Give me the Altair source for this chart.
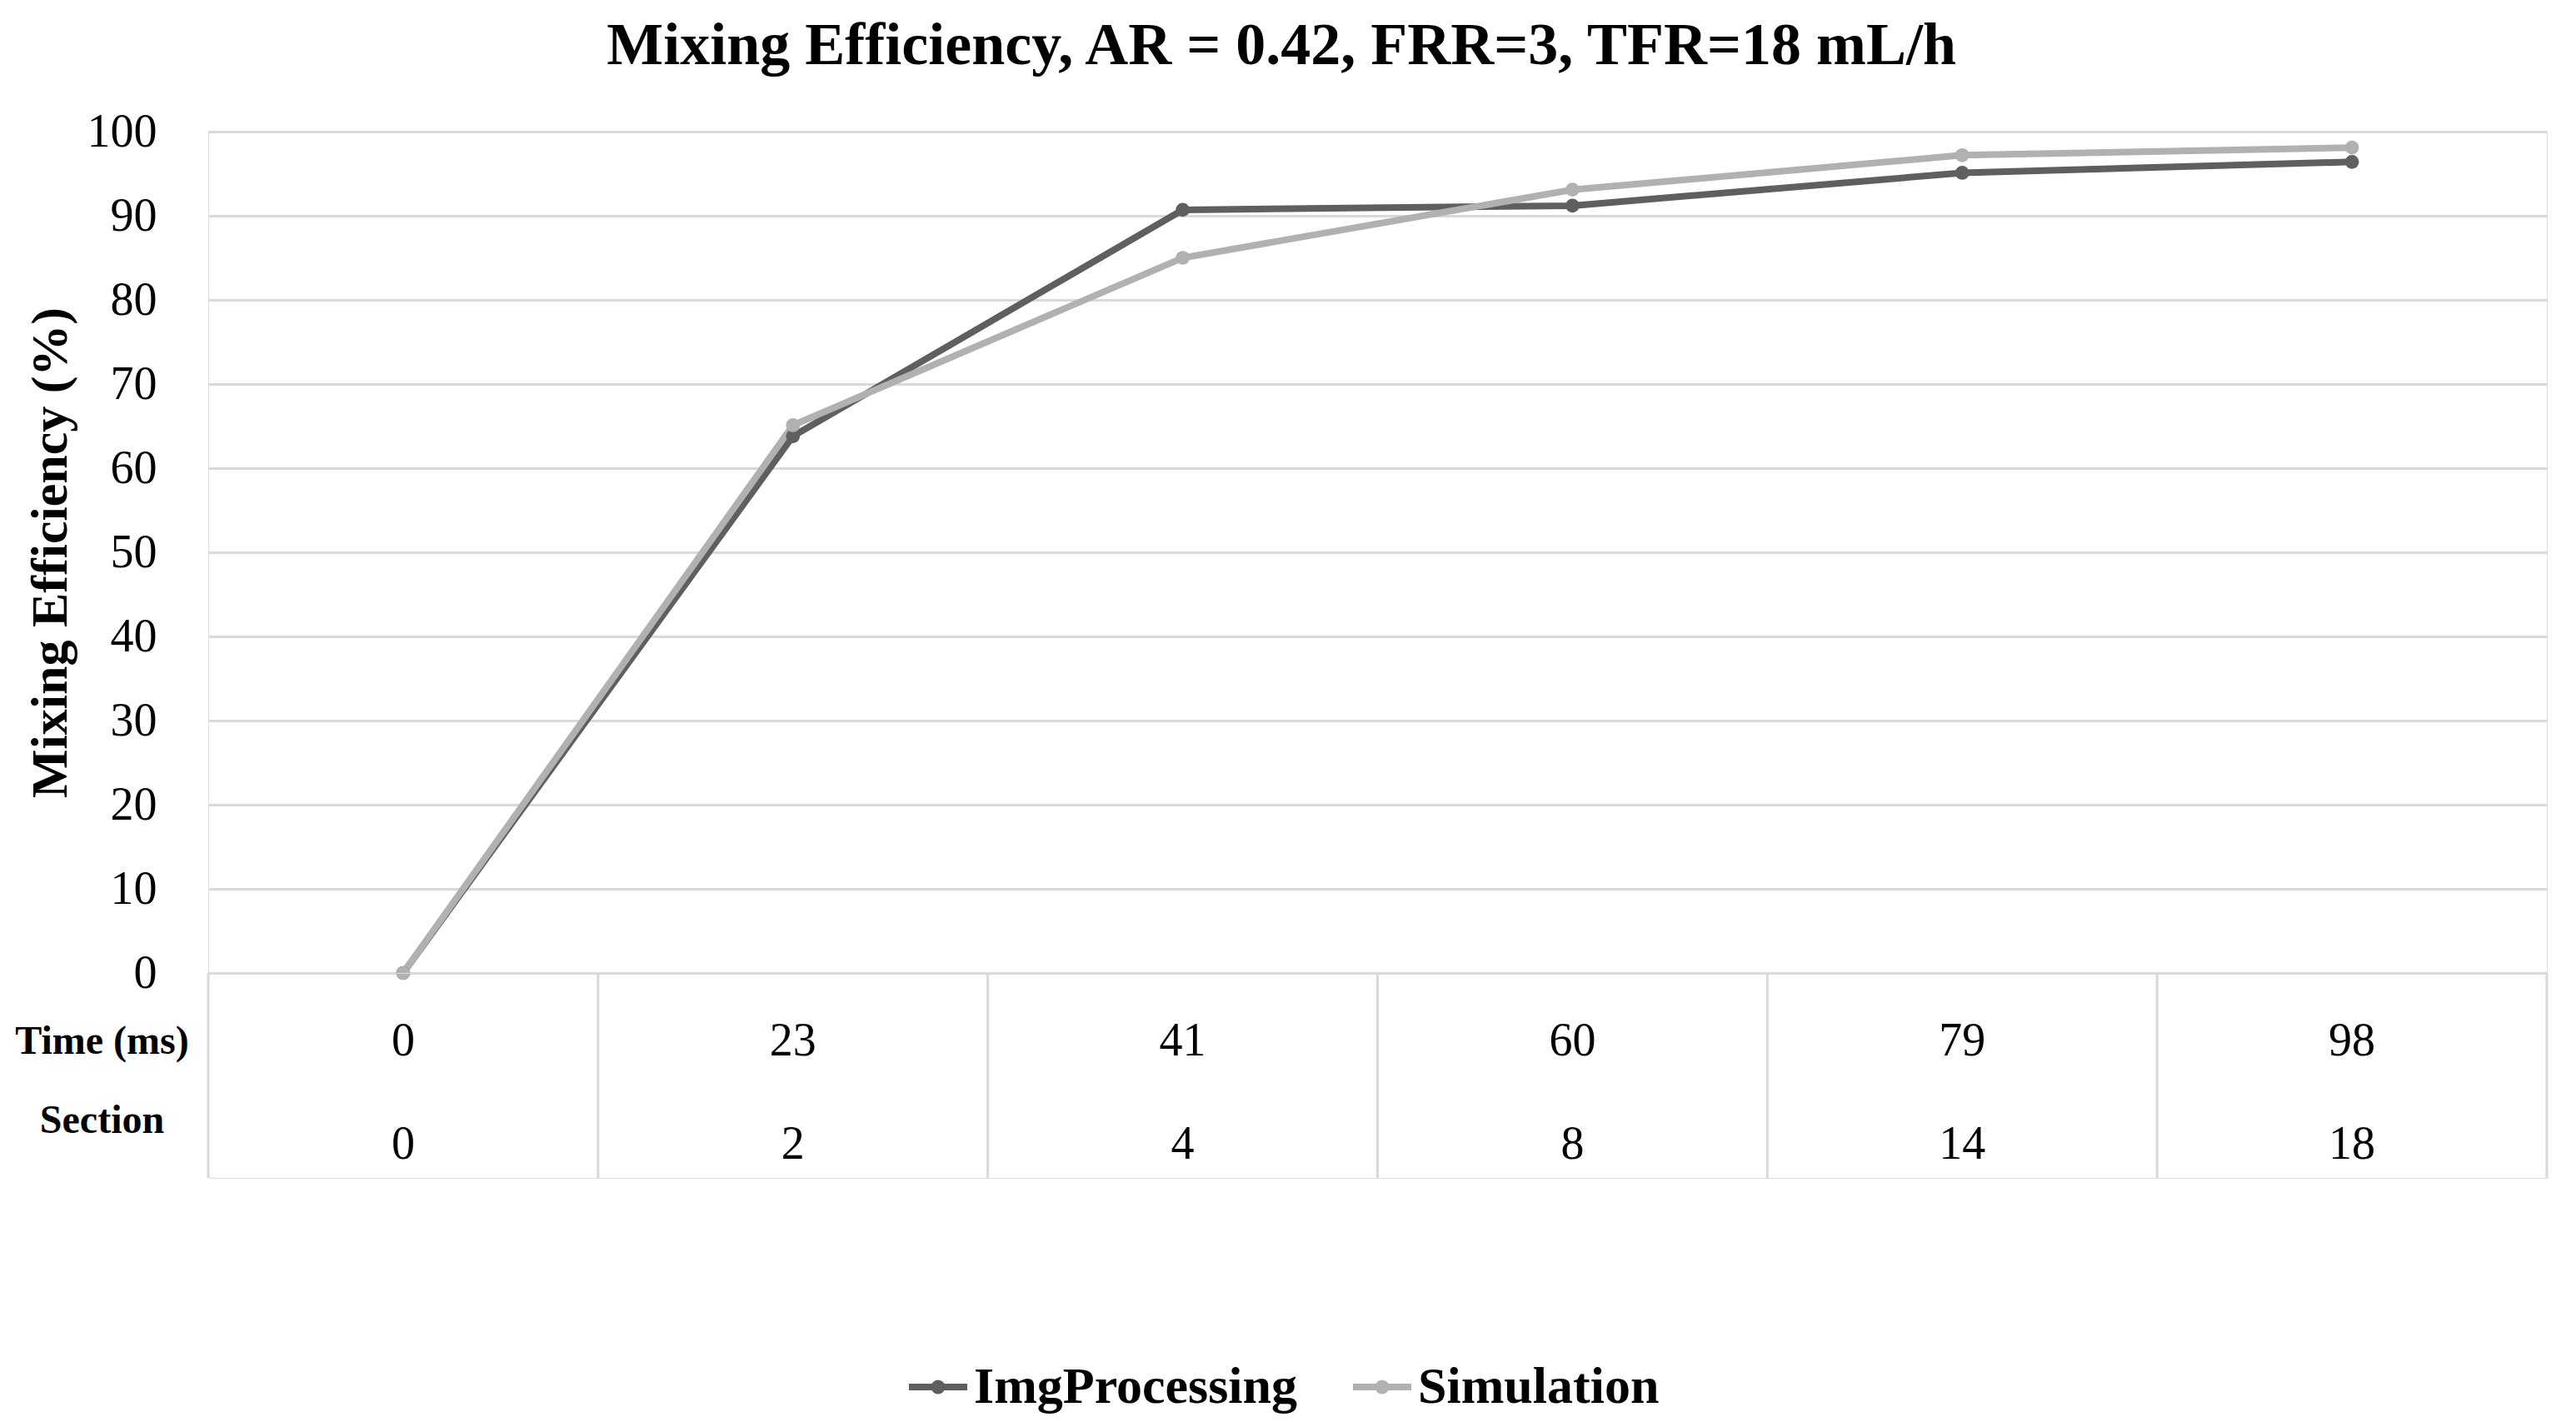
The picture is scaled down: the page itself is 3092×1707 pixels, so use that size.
import altair as alt
import pandas as pd

# ---- data ----
time_ms = [0, 23, 41, 60, 79, 98]
section = [0, 2, 4, 8, 14, 18]
img_processing = [0, 63.8, 90.7, 91.2, 95.1, 96.4]
simulation = [0, 65.1, 85.0, 93.1, 97.2, 98.1]
series_names = ["ImgProcessing", "Simulation"]
series_colors = ["#5f5f5f", "#b1b1b1"]
row_names = ["Time (ms)", "Section"]

FONT = "Liberation Serif"
GRID = "#d9d9d9"

idx = list(range(len(time_ms)))
lines = pd.DataFrame(
    [{"idx": i, "series": series_names[0], "value": v} for i, v in zip(idx, img_processing)]
    + [{"idx": i, "series": series_names[1], "value": v} for i, v in zip(idx, simulation)]
)
table_time = pd.DataFrame({"idx": idx, "row": row_names[0], "label": [str(t) for t in time_ms]})
table_sec = pd.DataFrame({"idx": idx, "row": row_names[1], "label": [str(s) for s in section]})
seps = pd.DataFrame({"edge": [i - 0.5 for i in range(len(time_ms) + 1)]})

W = 2807
xscale = alt.Scale(domain=[-0.5, len(time_ms) - 0.5], nice=False, zero=False)
color = alt.Color(
    "series:N",
    scale=alt.Scale(domain=series_names, range=series_colors),
    legend=alt.Legend(
        title=None,
        orient="none",
        legendX=837,
        legendY=1468,
        direction="horizontal",
        labelFont=FONT,
        labelFontSize=62,
        labelFontWeight="bold",
        labelColor="#000000",
        labelLimit=1000,
        symbolType="M-1,0H1M0.13,0A0.13,0.13,0,1,1,-0.13,0A0.13,0.13,0,1,1,0.13,0",
        symbolSize=4900,
        symbolStrokeWidth=8,
        symbolOffset=0,
        labelOffset=4,
        columnPadding=50,
    ),
)

x_enc = alt.X("idx:Q", scale=xscale, axis=None)

line_layer = alt.Chart(lines).mark_line(strokeWidth=8).encode(
    x=x_enc,
    y=alt.Y(
        "value:Q",
        scale=alt.Scale(domain=[0, 100], nice=False),
        axis=alt.Axis(
            values=list(range(0, 101, 10)),
            title="Mixing Efficiency (%)",
            titleFont=FONT,
            titleFontSize=62,
            titleFontWeight="bold",
            titleColor="#000000",
            titlePadding=12,
            labelFont=FONT,
            labelFontSize=56,
            labelColor="#000000",
            labelPadding=62,
            ticks=False,
            domain=False,
            grid=True,
            gridColor=GRID,
            gridWidth=3,
        ),
    ),
    color=color,
)
point_layer = alt.Chart(lines).mark_point(filled=True, size=280, opacity=1).encode(
    x=x_enc,
    y="value:Q",
    color=alt.Color("series:N", scale=alt.Scale(domain=series_names, range=series_colors), legend=None),
)
main = alt.layer(line_layer, point_layer).properties(width=W, height=1010)

yrow = alt.Y(
    "row:N",
    scale=alt.Scale(type="point", domain=row_names, range=[82, 177], padding=0),
    axis=alt.Axis(
        title=None,
        labelFont=FONT,
        labelFontSize=48,
        labelFontWeight="bold",
        labelColor="#000000",
        labelAlign="center",
        labelPadding=128,
        labelLimit=1000,
        ticks=False,
        domain=False,
        grid=False,
    ),
)
sep_layer = alt.Chart(seps).mark_rule(color=GRID, strokeWidth=3).encode(
    x=alt.X("edge:Q", scale=xscale, axis=None)
)
time_text = alt.Chart(table_time).mark_text(font=FONT, fontSize=56, color="#000000", baseline="middle").encode(
    x=x_enc, y=yrow, text="label:N"
)
sec_text = alt.Chart(table_sec).mark_text(font=FONT, fontSize=56, color="#000000", baseline="middle", dy=29).encode(
    x=x_enc, y=yrow, text="label:N"
)
table = alt.layer(sep_layer, time_text, sec_text).properties(width=W, height=246)

chart = (
    alt.vconcat(main, table, spacing=0, bounds="flush")
    .properties(
        title=alt.Title(
            "Mixing Efficiency, AR = 0.42, FRR=3, TFR=18 mL/h",
            font=FONT,
            fontSize=72,
            fontWeight="bold",
            color="#000000",
            anchor="middle",
            frame="bounds",
            offset=38,
        ),
        padding={"left": 9, "top": 10, "right": 20, "bottom": 10},
    )
    .configure_view(stroke=None)
    .configure(background="#ffffff")
)

chart.save("out.html", embed_options={"renderer": "svg", "actions": False})
